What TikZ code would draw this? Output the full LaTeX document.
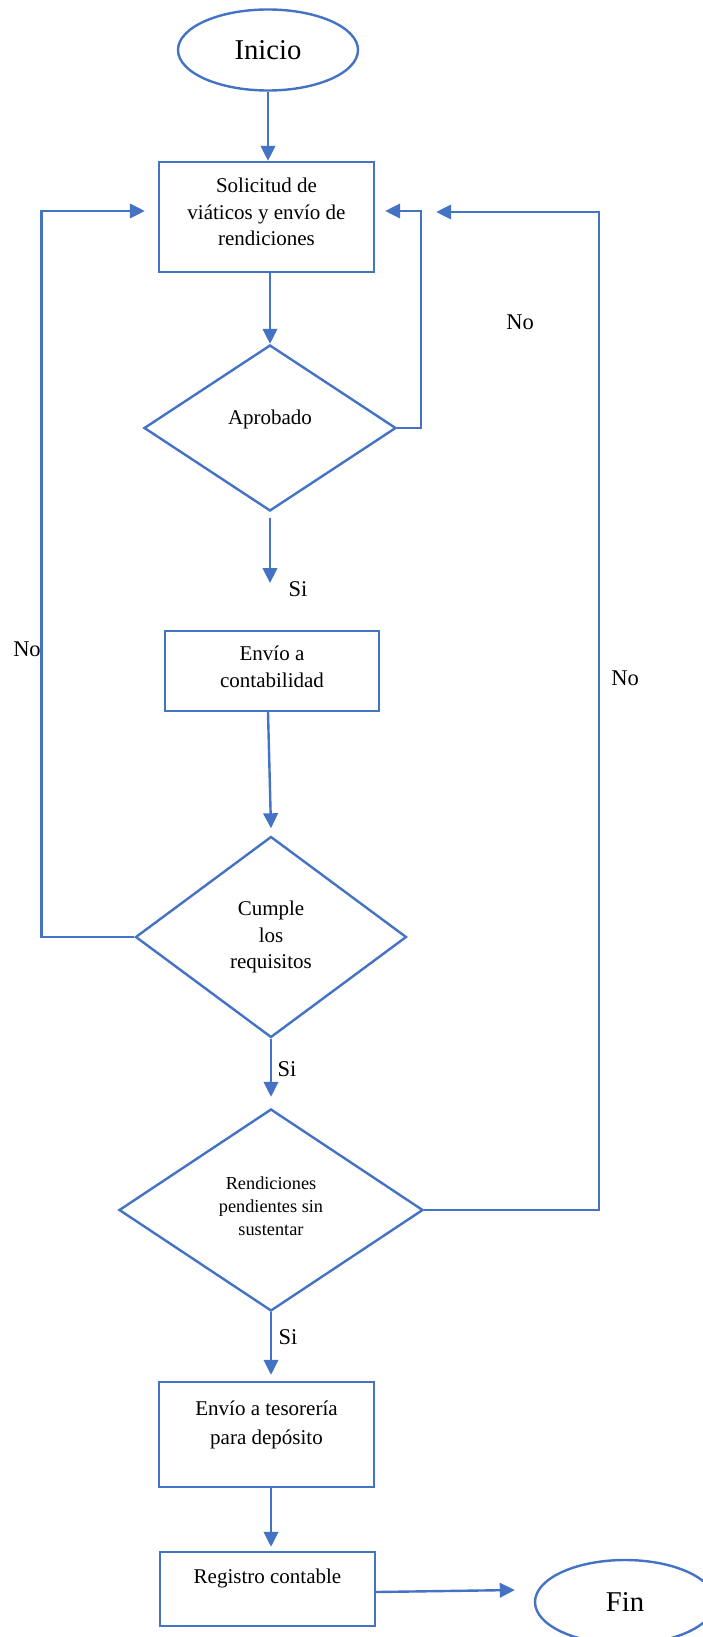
\documentclass[tikz,border=0pt]{standalone}
\usepackage{fontspec}
\setmainfont{Liberation Serif}
\usetikzlibrary{shapes.geometric,arrows.meta}
\definecolor{flow}{RGB}{68,114,196}
\begin{document}
\begin{tikzpicture}[x=1pt,y=-1pt,
  line width=2.4pt,
  arr/.style={draw=flow, -{Triangle[length=15pt,width=14.5pt]}},
  box/.style={draw=flow, rectangle, inner sep=0pt, align=center, font=\fontsize{21}{26.7}\selectfont},
  dec/.style={draw=flow, diamond, inner sep=0pt, align=center, font=\fontsize{21}{26.7}\selectfont},
  term/.style={draw=flow, ellipse, inner sep=0pt, font=\fontsize{28.7}{34}\selectfont},
  lbl/.style={font=\fontsize{22.5}{27}\selectfont, inner sep=0pt}]
\fill[white] (0,0) rectangle (702,1637);
\useasboundingbox (0,0) rectangle (702,1637);

\node[term, minimum width=180pt, minimum height=81pt] (ini) at (268,50) {Inicio};
\node[box, minimum width=215pt, minimum height=110pt, text depth=10pt] (b1) at (266.5,217) {Solicitud de\\viáticos y envío de\\rendiciones};
\node[dec, minimum width=252pt, minimum height=166pt, text depth=22pt] (d1) at (270,428) {Aprobado};
\node[box, minimum width=214pt, minimum height=80pt, text depth=8pt] (b2) at (272,671) {Envío a\\contabilidad};
\node[dec, minimum width=271pt, minimum height=201pt] (d2) at (271,937) {Cumple\\los\\requisitos};
\node[dec, minimum width=304pt, minimum height=202pt, text depth=8pt, font=\fontsize{18.3}{23.3}\selectfont] (d3) at (271,1210) {Rendiciones\\pendientes sin\\sustentar};
\node[box, minimum width=215pt, minimum height=105pt, text depth=24pt, font=\fontsize{21}{29}\selectfont] (b4) at (266.5,1434.5) {Envío a tesorería\\para depósito};
\node[box, minimum width=215pt, minimum height=74pt, text depth=25pt] (b5) at (267.5,1589) {Registro contable};
\node[term, minimum width=180pt, minimum height=84pt] (fin) at (625,1602) {Fin};

\coordinate (s1) at (270,583);

\draw[arr] (ini.south) -- (ini.south |- b1.north);
\draw[arr] (d1.north |- b1.south) -- (d1.north);
\draw[arr] ([shift={(0,6)}]d1.south) -- (s1);
\draw[arr] ([shift={(-4,0)}]b2.south) -- ([shift={(0,-7)}]d2.north);
\draw[arr] (d2.south) -- ([shift={(0,-11)}]d3.north);
\draw[arr] (d3.south) -- ([shift={(0,-6)}]d3.south |- b4.north);
\draw[arr] (d3.south |- b4.south) -- ([shift={(0,-4)}]d3.south |- b5.north);
\draw[arr] (d1.east) -- ++(24,0) |- ([shift={(10,-6)}]b1.east);
\draw[arr] (d2.west) -- ++(-93,0) |- ([shift={(-13,-6)}]b1.west);
\draw[arr] (d3.east) -- ++(175,0) |- ([shift={(61,-5)}]b1.east);
\draw[arr] ([shift={(0,3)}]b5.east) -- ([shift={(-19,-12)}]fin.west);

\node[lbl] (no1) at (520,322) {No};
\node[lbl] (no2) at (27,649) {No};
\node[lbl] (no3) at (625,678) {No};
\node[lbl] (si1) at (298,589) {Si};
\node[lbl] (si2) at (287,1069) {Si};
\node[lbl] (si3) at (288,1337) {Si};
\end{tikzpicture}
\end{document}
